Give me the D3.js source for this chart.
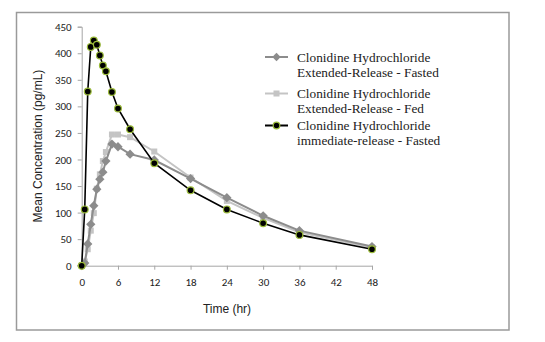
<!DOCTYPE html>
<html>
<head>
<meta charset="utf-8">
<script src="https://cdn.jsdelivr.net/npm/d3@7/dist/d3.min.js"></script>
<style>
  html, body { margin: 0; padding: 0; background: #fff; }
  svg { display: block; }
</style>
</head>
<body>
<svg id="chart" width="545" height="342"></svg>
<script>
// Data
const hoursERFasted = [0, 0.5, 1, 1.5, 2, 2.5, 3, 3.5, 4, 5, 6, 8, 12, 18, 24, 30, 36, 48];
const erFasted      = [0, 5, 41, 78, 113, 144, 163, 176, 197, 229, 224, 210, 199, 164, 128, 94, 66, 36];
const hoursERFed    = [0, 0.5, 1, 1.5, 2, 2.5, 3, 3.5, 4, 5, 6, 8, 12, 18, 24, 30, 36, 48];
const erFed         = [0, 8, 31, 66, 99, 145, 172, 197, 214, 247, 247, 242, 215, 166, 122, 90, 63, 34];
const hoursIR       = [0, 0.5, 1, 1.5, 2, 2.5, 3, 3.5, 4, 5, 6, 8, 12, 18, 24, 30, 36, 48];
const irFasted      = [0, 106, 328, 412, 424, 416, 396, 377, 366, 327, 296, 257, 193, 142, 106, 80, 58, 31];
const xTicks = [0, 6, 12, 18, 24, 30, 36, 42, 48];
const yTicks = [0, 50, 100, 150, 200, 250, 300, 350, 400, 450];
const seriesNames = [
  ["Clonidine Hydrochloride", "Extended-Release - Fasted"],
  ["Clonidine Hydrochloride", "Extended-Release - Fed"],
  ["Clonidine Hydrochloride", "immediate-release - Fasted"]
];

const svg = d3.select("#chart");

// outer frame
svg.append("rect")
  .attr("x", 16.5).attr("y", 12.5).attr("width", 492.5).attr("height", 317.5)
  .attr("fill", "#fff").attr("stroke", "#9a9a9a").attr("stroke-width", 1.5);

const x = d3.scaleLinear().domain([0, 48]).range([81.7, 372]);
const y = d3.scaleLinear().domain([0, 450]).range([265.7, 26.7]);

const axisColor = "#a6a6a6";
const tickFont = "Calibri, Carlito, 'Open Sans', Arial, sans-serif";

// Y axis
const gy = svg.append("g").attr("transform", `translate(${x(0)},0)`)
  .call(d3.axisLeft(y).tickValues(yTicks).tickSize(4).tickPadding(6));
gy.select(".domain").attr("stroke", axisColor);
gy.selectAll(".tick line").attr("stroke", axisColor);
gy.selectAll(".tick text").attr("fill", "#222").style("font-family", tickFont).style("font-size", "11px");

// X axis
const gx = svg.append("g").attr("transform", `translate(0,${y(0)})`)
  .call(d3.axisBottom(x).tickValues(xTicks).tickSize(4).tickPadding(9));
gx.select(".domain").attr("stroke", axisColor);
gx.selectAll(".tick line").attr("stroke", axisColor);
gx.selectAll(".tick text").attr("fill", "#222").style("font-family", tickFont).style("font-size", "11px");

// Axis titles
svg.append("text")
  .attr("x", 227).attr("y", 313)
  .attr("text-anchor", "middle")
  .style("font-family", "Arial, 'Liberation Sans', sans-serif")
  .style("font-size", "12px").attr("fill", "#222")
  .text("Time (hr)");
svg.append("text")
  .attr("transform", "translate(42,146) rotate(-90)")
  .attr("text-anchor", "middle")
  .style("font-family", "Arial, 'Liberation Sans', sans-serif")
  .style("font-size", "12px").attr("fill", "#222")
  .text("Mean Concentration (pg/mL)");

const line = d3.line().x(d => x(d[0])).y(d => y(d[1]));

const sFasted = hoursERFasted.map((h, i) => [h, erFasted[i]]);
const sFed = hoursERFed.map((h, i) => [h, erFed[i]]);
const sIR = hoursIR.map((h, i) => [h, irFasted[i]]);

// ER Fed (light grey squares)
svg.append("path").datum(sFed).attr("d", line)
  .attr("fill", "none").attr("stroke", "#c4c4c4").attr("stroke-width", 2);
svg.append("g").selectAll("rect").data(sFed).join("rect")
  .attr("x", d => x(d[0]) - 3).attr("y", d => y(d[1]) - 3)
  .attr("width", 6).attr("height", 6).attr("fill", "#c4c4c4");

// ER Fasted (grey diamonds)
svg.append("path").datum(sFasted).attr("d", line)
  .attr("fill", "none").attr("stroke", "#8c8c8c").attr("stroke-width", 2);
svg.append("g").selectAll("path").data(sFasted).join("path")
  .attr("d", d3.symbol(d3.symbolDiamond2, 55))
  .attr("transform", d => `translate(${x(d[0])},${y(d[1])})`)
  .attr("fill", "#8c8c8c");

// IR Fasted (black circles with green outline)
svg.append("path").datum(sIR).attr("d", line)
  .attr("fill", "none").attr("stroke", "#000").attr("stroke-width", 1.6);
svg.append("g").selectAll("circle").data(sIR).join("circle")
  .attr("cx", d => x(d[0])).attr("cy", d => y(d[1])).attr("r", 3.4)
  .attr("fill", "#000").attr("stroke", "#9bbb3a").attr("stroke-width", 1.2);

// Legend
const legendFont = "'Liberation Serif', 'Times New Roman', serif";
const legY = [57, 93.5, 125.5];
const lg = svg.append("g");
// fasted
lg.append("line").attr("x1", 265).attr("x2", 288).attr("y1", legY[0]).attr("y2", legY[0])
  .attr("stroke", "#8c8c8c").attr("stroke-width", 2);
lg.append("path").attr("d", d3.symbol(d3.symbolDiamond2, 45))
  .attr("transform", `translate(276.5,${legY[0]})`).attr("fill", "#8c8c8c");
// fed
lg.append("line").attr("x1", 265).attr("x2", 288).attr("y1", legY[1]).attr("y2", legY[1])
  .attr("stroke", "#c4c4c4").attr("stroke-width", 2);
lg.append("rect").attr("x", 273.5).attr("y", legY[1] - 3).attr("width", 6).attr("height", 6)
  .attr("fill", "#c4c4c4");
// IR
lg.append("line").attr("x1", 265).attr("x2", 288).attr("y1", legY[2]).attr("y2", legY[2])
  .attr("stroke", "#000").attr("stroke-width", 2);
lg.append("circle").attr("cx", 276.5).attr("cy", legY[2]).attr("r", 3.3)
  .attr("fill", "#000").attr("stroke", "#9bbb3a").attr("stroke-width", 1.2);

seriesNames.forEach((lines, i) => {
  const t = lg.append("text")
    .style("font-family", legendFont).style("font-size", "13.3px").attr("fill", "#222");
  lines.forEach((s, j) => {
    t.append("tspan").attr("x", 297).attr("y", legY[i] + 4.5 + j * 15).text(s);
  });
});
</script>
</body>
</html>
